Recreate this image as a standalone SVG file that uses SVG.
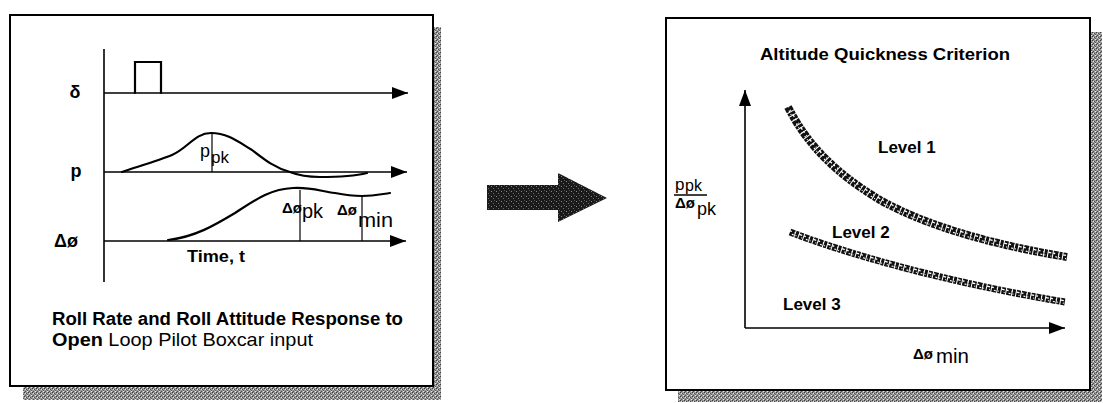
<svg xmlns="http://www.w3.org/2000/svg" width="1103" height="403" viewBox="0 0 1103 403">
  <defs>
    <!-- grainy grey used for the drop shadows -->
    <pattern id="grain" width="4" height="4" patternUnits="userSpaceOnUse">
      <rect width="4" height="4" fill="#9a9a9a"/>
      <rect x="0" y="0" width="1" height="1" fill="#3a3a3a"/>
      <rect x="2" y="1" width="1" height="1" fill="#4a4a4a"/>
      <rect x="1" y="3" width="1" height="1" fill="#505050"/>
      <rect x="3" y="2" width="1" height="1" fill="#5c5c5c"/>
      <rect x="1" y="1" width="1" height="1" fill="#e0e0e0"/>
      <rect x="3" y="3" width="1" height="1" fill="#e8e8e8"/>
    </pattern>
    <!-- dark stipple for the block arrow -->
    <pattern id="darkgrain" width="5" height="5" patternUnits="userSpaceOnUse">
      <rect width="5" height="5" fill="#1a1a1a"/>
      <rect x="1" y="1" width="1" height="1" fill="#8a8a8a"/>
      <rect x="3" y="3" width="1" height="1" fill="#6e6e6e"/>
      <rect x="4" y="0" width="1" height="1" fill="#555"/>
    </pattern>
    <marker id="head" markerWidth="16" markerHeight="12" refX="16" refY="6" orient="auto" markerUnits="userSpaceOnUse">
      <path d="M0,0 L16,6 L0,12 z" fill="#000"/>
    </marker>
    <!-- boundary curves, reused for the chain-like texture -->
    <path id="b12" d="M788,107 C805,140 830,170 880,200 C930,228 1000,246 1067,257"/>
    <path id="b23" d="M790,232 C850,255 950,283 1065,302"/>
    <style>
      .frame { fill: #fff; stroke: #000; stroke-width: 2; }
      .shadow { fill: url(#grain); }
      .axis { fill: none; stroke: #000; stroke-width: 1.6; }
      .axisA { fill: none; stroke: #000; stroke-width: 1.6; marker-end: url(#head); }
      .curve { fill: none; stroke: #000; stroke-width: 2.2; stroke-linecap: round; }
      .tick { fill: none; stroke: #000; stroke-width: 1.2; }
      .band { fill: none; stroke: #111; stroke-width: 8; stroke-dasharray: 5 1 3 1 4 1; }
      .hiA { fill: none; stroke: #fff; stroke-width: 1.3; stroke-dasharray: 2 3 1 4 3 2; }
      .hiB { fill: none; stroke: #fff; stroke-width: 1.1; stroke-dasharray: 1 4 2 2 1 5; stroke-dashoffset: 3; }
      .t { font-family: "Liberation Sans", Arial, sans-serif; fill: #000; }
      .b { font-weight: bold; }
    </style>
  </defs>

  <!-- left panel: time response -->
  <g id="response-panel">
    <rect class="shadow" x="433" y="27" width="8" height="373"/>
    <rect class="shadow" x="23" y="386" width="418" height="14"/>
    <rect class="frame" x="10" y="15" width="423" height="371"/>

    <line class="axis" x1="104" y1="49" x2="104" y2="282"/>

    <!-- control input: boxcar -->
    <g id="delta-trace">
      <line class="axisA" x1="104" y1="93" x2="408" y2="93"/>
      <polyline class="curve" points="135,93 135,62 161,62 161,93" stroke-width="2"/>
      <text class="t b" x="75" y="98" font-size="18" text-anchor="middle">δ</text>
    </g>

    <!-- roll rate -->
    <g id="p-trace">
      <line class="axisA" x1="104" y1="172" x2="407" y2="172"/>
      <path class="curve" d="M122,172 C140,166 160,160 172,155 C188,148 195,133 211,133 C228,133 240,143 252,150 C265,160 275,168 290,172 C300,176 310,177 320,177 C340,177 355,176 367,173"/>
      <line class="tick" x1="212" y1="134" x2="212" y2="172"/>
      <text class="t b" x="76" y="177" font-size="18" text-anchor="middle">p</text>
      <text class="t" x="200" y="157" font-size="18">p</text>
      <text class="t" x="211" y="163" font-size="17">pk</text>
    </g>

    <!-- roll attitude -->
    <g id="phi-trace">
      <line class="axisA" x1="104" y1="241" x2="406" y2="241"/>
      <path class="curve" d="M168,240 C195,237 215,225 235,213 C255,200 270,189 293,188 C310,187 320,191 335,193 C345,195 352,196 362,196 C375,196 382,194 390,193"/>
      <line class="tick" x1="300" y1="190" x2="300" y2="241"/>
      <line class="tick" x1="362" y1="197" x2="362" y2="241"/>
      <text class="t b" x="66" y="247" font-size="18" text-anchor="middle">Δø</text>
      <text class="t b" x="282" y="213" font-size="15">Δø</text>
      <text class="t" x="302" y="218" font-size="20">pk</text>
      <text class="t b" x="337" y="215" font-size="15">Δø</text>
      <text class="t" x="358" y="227" font-size="20" textLength="35" lengthAdjust="spacingAndGlyphs">min</text>
      <text class="t b" x="187" y="262" font-size="17" textLength="58" lengthAdjust="spacingAndGlyphs">Time, t</text>
    </g>

    <text class="t b" x="52" y="325" font-size="18" textLength="351" lengthAdjust="spacingAndGlyphs">Roll Rate and Roll Attitude Response to</text>
    <text class="t" x="52" y="346" font-size="19" textLength="261" lengthAdjust="spacingAndGlyphs"><tspan class="b">Open</tspan> Loop Pilot Boxcar input</text>
  </g>

  <!-- block arrow between panels -->
  <g id="transition-arrow">
    <polygon points="487,185 558,185 558,173 607,198 558,222 558,210 487,210" fill="url(#darkgrain)"/>
  </g>

  <!-- right panel: quickness chart -->
  <g id="criterion-panel">
    <rect class="shadow" x="1091" y="32" width="11" height="370"/>
    <rect class="shadow" x="678" y="390" width="424" height="12"/>
    <rect class="frame" x="666" y="18" width="424" height="372"/>

    <text class="t b" x="760" y="60" font-size="17" textLength="250" lengthAdjust="spacingAndGlyphs">Altitude Quickness Criterion</text>

    <g id="chart-axes">
      <line class="axisA" x1="745" y1="328" x2="745" y2="90"/>
      <line class="axisA" x1="745" y1="328" x2="1065" y2="328"/>
    </g>

    <!-- y-axis label: ppk / Δøpk -->
    <g id="y-label">
      <text class="t" x="675" y="190" font-size="17">p</text>
      <text class="t" x="685" y="191" font-size="16">pk</text>
      <line x1="674" y1="195" x2="707" y2="195" stroke="#000" stroke-width="1.4"/>
      <text class="t b" x="675" y="208" font-size="15">Δø</text>
      <text class="t" x="697" y="215" font-size="18">pk</text>
    </g>

    <g id="x-label">
      <text class="t b" x="913" y="359" font-size="15">Δø</text>
      <text class="t" x="936" y="363" font-size="20" textLength="33" lengthAdjust="spacingAndGlyphs">min</text>
    </g>

    <!-- level boundaries -->
    <g id="boundary-1-2">
      <use href="#b12" class="band"/>
      <use href="#b12" class="hiA" transform="translate(0,-1.5)"/>
      <use href="#b12" class="hiB" transform="translate(0,1.8)"/>
    </g>
    <g id="boundary-2-3">
      <use href="#b23" class="band" style="stroke-width:7"/>
      <use href="#b23" class="hiA" transform="translate(0,-1.2)"/>
      <use href="#b23" class="hiB" transform="translate(0,1.5)"/>
    </g>

    <text class="t b" x="878" y="153" font-size="17">Level 1</text>
    <text class="t b" x="832" y="238" font-size="17">Level 2</text>
    <text class="t b" x="783" y="310" font-size="17">Level 3</text>
  </g>
</svg>
